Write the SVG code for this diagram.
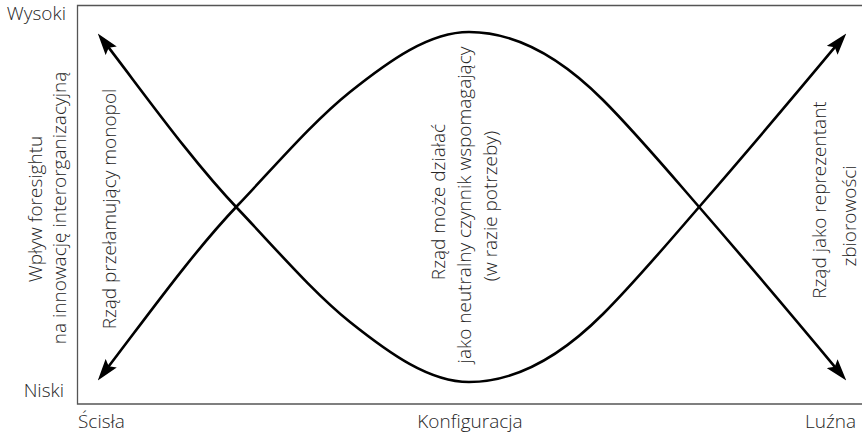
<svg xmlns="http://www.w3.org/2000/svg" width="862" height="434" viewBox="0 0 862 434">
<style>
.t{font-family:"Open Sans","Liberation Sans",sans-serif;font-weight:300;font-size:19px;fill:#262626}
.m{text-anchor:middle}
.axis{stroke:#555;stroke-width:1.3;fill:none}
.curve{stroke:#000;stroke-width:2.6;fill:none;marker-start:url(#ah);marker-end:url(#ah)}
</style>
<defs>
<marker id="ah" viewBox="0 0 22 14" refX="10" refY="7" markerWidth="22" markerHeight="14" markerUnits="userSpaceOnUse" orient="auto-start-reverse">
<path d="M0,0 L22,7 L0,14 L4,7 Z" fill="#000"/>
</marker>
</defs>
<g id="frame">
<path class="axis" d="M862,5.5 H77.5 V404 H862"/>
</g>
<g id="axis-labels">
<text class="t" x="66" y="20" text-anchor="end">Wysoki</text>
<text class="t" x="64" y="397" text-anchor="end">Niski</text>
<text class="t" x="78" y="428">Ścisła</text>
<text class="t m" x="470" y="428">Konfiguracja</text>
<text class="t" x="856" y="428" text-anchor="end">Luźna</text>
<text class="t m" transform="translate(42,209) rotate(-90)">Wpływ foresightu</text>
<text class="t m" transform="translate(66,208) rotate(-90)">na innowację interorganizacyjną</text>
</g>
<g id="connectors">
<path class="curve" d="M105.1,371.1 C145.3,318.8 191.7,253.6 238,205 C275.3,165.8 312.7,121.9 350,92 C389.7,60.3 429.3,32 469,32 C513.7,32 558.3,55.3 603,100 C635.3,132.3 667.7,170.8 700,208 C748.3,263.6 796.7,321 838.6,371.3"/>
<path class="curve" d="M105.1,42.9 C145.3,95.2 191.7,160.4 238,209 C275.3,248.2 312.7,292.1 350,322 C389.7,353.7 429.3,382 469,382 C513.7,382 558.3,358.7 603,314 C635.3,281.7 667.7,243.2 700,206 C748.3,150.4 796.7,93 838.6,42.7"/>
</g>
<g id="node-monopol">
<text class="t m" transform="translate(116,209) rotate(-90)">Rząd przełamujący monopol</text>
</g>
<g id="node-neutral">
<text class="t m" transform="translate(445,202) rotate(-90)">Rząd może działać</text>
<text class="t m" transform="translate(471,205) rotate(-90)">jako neutralny czynnik wspomagający</text>
<text class="t m" transform="translate(497,206) rotate(-90)">(w razie potrzeby)</text>
</g>
<g id="node-reprezentant">
<text class="t m" transform="translate(826,200) rotate(-90)">Rząd jako reprezentant</text>
<text class="t m" transform="translate(856,216) rotate(-90)">zbiorowości</text>
</g>
</svg>
